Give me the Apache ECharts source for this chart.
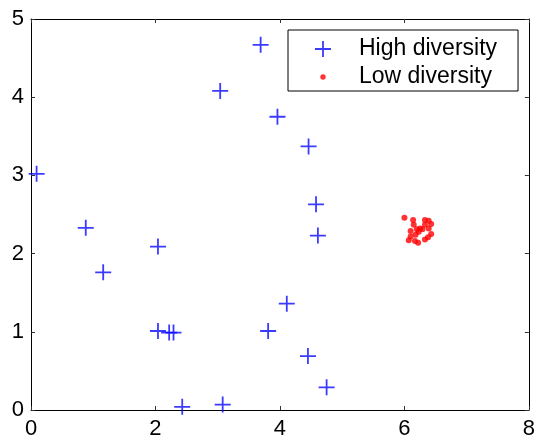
<!DOCTYPE html>
<html>
<head>
<meta charset="utf-8">
<script src="https://cdn.jsdelivr.net/npm/echarts@6/dist/echarts.min.js"></script>
<style>
  html, body { margin: 0; padding: 0; background: #fff; }
  #chart { width: 538px; height: 441px; }
</style>
</head>
<body>
<div id="chart"></div>
<script>
// high diversity points (blue plus)
const highX = [3.69, 3.04, 3.96, 4.46, 0.09, 0.88, 4.58, 4.61, 4.11, 2.04, 1.16, 2.04, 2.22, 2.29, 3.81, 4.45, 4.75, 2.43, 3.08]
const highY = [4.67, 4.08, 3.75, 3.37, 3.02, 2.33, 2.63, 2.23, 1.36, 2.09, 1.76, 1.01, 0.99, 0.99, 1.01, 0.69, 0.29, 0.04, 0.07]

// low diversity points (red dots)
const lowX = [6.00, 6.14, 6.33, 6.39, 6.43, 6.33, 6.15, 6.10, 6.20, 6.25, 6.29, 6.23, 6.39, 6.43, 6.10, 6.18, 6.33, 6.07, 6.17, 6.22, 6.38]
const lowY = [2.46, 2.43, 2.43, 2.42, 2.38, 2.37, 2.37, 2.29, 2.31, 2.32, 2.31, 2.28, 2.32, 2.25, 2.22, 2.24, 2.18, 2.17, 2.16, 2.14, 2.21]

const xTicks = [0, 2, 4, 6, 8]
const yTicks = [0, 1, 2, 3, 4, 5]
const seriesNames = ['High diversity', 'Low diversity']

const font = 'Liberation Sans, Arial, Helvetica, sans-serif'
const plusPath = 'path://M7.1,0H8.9V7.1H16V8.9H8.9V16H7.1V8.9H0V7.1H7.1Z'
const dotPath = 'path://M0,0M16,16M8,5.3A2.7,2.7,0,1,1,7.99,5.3Z'

const chart = echarts.init(document.getElementById('chart'))

const axisCommon = {
  type: 'value',
  splitLine: { show: false },
  axisLine: { show: true, onZero: false, lineStyle: { color: '#000', width: 1 } },
  axisTick: { show: true, inside: true, length: 4, lineStyle: { color: '#333' } }
}

const options = {
  animation: false,
  backgroundColor: '#fff',
  grid: {
    left: 31,
    right: 6,
    top: 19,
    bottom: 31
  },
  xAxis: [
    {
      ...axisCommon,
      position: 'bottom',
      min: xTicks[0],
      max: xTicks[xTicks.length - 1],
      interval: 2,
      axisLabel: { color: '#000', fontSize: 22, fontFamily: font, margin: 8 }
    },
    {
      ...axisCommon,
      position: 'top',
      min: xTicks[0],
      max: xTicks[xTicks.length - 1],
      interval: 2,
      axisLabel: { show: false }
    }
  ],
  yAxis: [
    {
      ...axisCommon,
      position: 'left',
      min: yTicks[0],
      max: yTicks[yTicks.length - 1],
      interval: 1,
      axisLabel: { color: '#000', fontSize: 22, fontFamily: font, margin: 7 }
    },
    {
      ...axisCommon,
      position: 'right',
      min: yTicks[0],
      max: yTicks[yTicks.length - 1],
      interval: 1,
      axisLabel: { show: false }
    }
  ],
  legend: {
    orient: 'vertical',
    left: 288,
    top: 30,
    padding: [7, 21, 2, 27],
    itemGap: 4,
    itemWidth: 62,
    itemHeight: 16,
    borderColor: '#000',
    borderWidth: 1,
    backgroundColor: '#fff',
    textStyle: { color: '#000', fontSize: 23, fontFamily: font, lineHeight: 24 },
    data: [
      { name: seriesNames[0], icon: plusPath },
      { name: seriesNames[1], icon: dotPath }
    ]
  },
  series: [
    {
      name: seriesNames[0],
      type: 'scatter',
      symbol: plusPath,
      symbolSize: 16,
      itemStyle: { color: '#0a0aff' },
      data: highX.map((x, i) => [x, highY[i]])
    },
    {
      name: seriesNames[1],
      type: 'scatter',
      symbol: 'circle',
      symbolSize: 6,
      itemStyle: { color: '#ff0000' },
      data: lowX.map((x, i) => [x, lowY[i]])
    }
  ]
}

chart.setOption(options, true)
window.addEventListener('resize', () => {
  chart.resize()
})
</script>
</body>
</html>
